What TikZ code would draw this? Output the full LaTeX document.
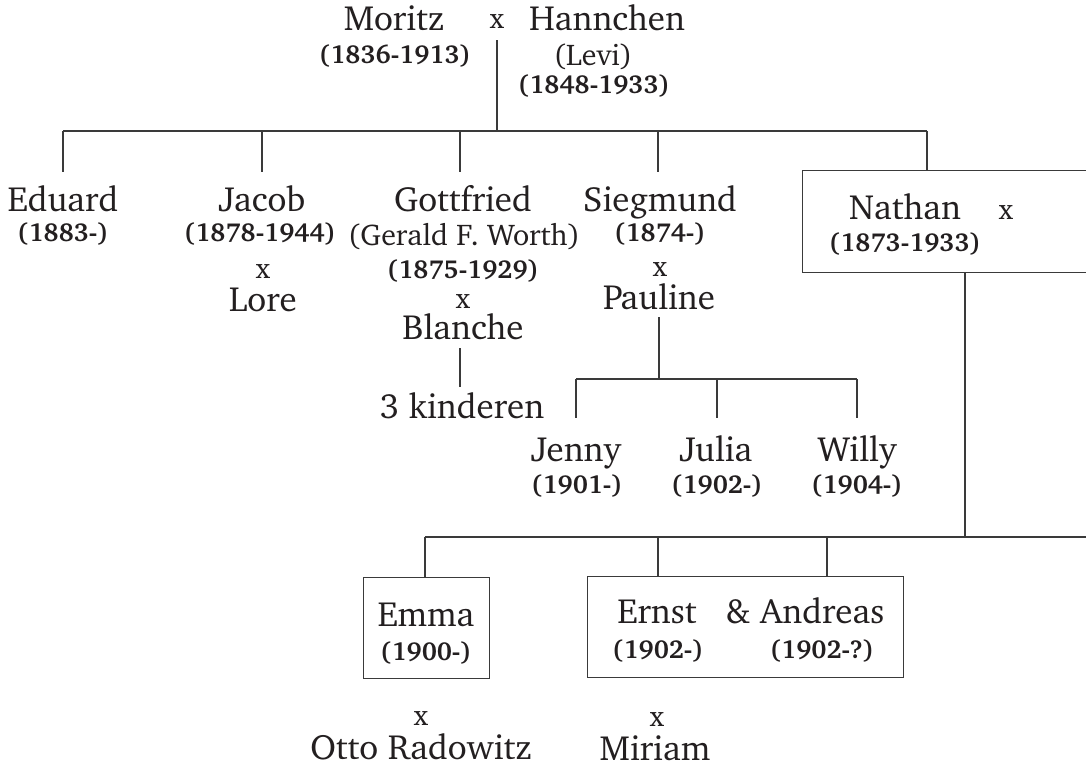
\documentclass[tikz,border=0pt]{standalone}
\usepackage[T1]{fontenc}
\usepackage{charter}
\definecolor{linegray}{HTML}{3A3A3A}
\definecolor{ink}{HTML}{231F20}
\begin{document}
\begin{tikzpicture}[x=1pt,y=-1pt,
  pname/.style={font=\fontsize{35}{35}\selectfont, text=ink, inner sep=0pt, text height=23.5pt, text depth=0pt},
  pdate/.style={font=\fontsize{26}{26}\selectfont\bfseries, text=ink, inner sep=0pt, text height=17.5pt, text depth=0pt},
  pnote/.style={font=\fontsize{30}{30}\selectfont, text=ink, inner sep=0pt, text height=20pt, text depth=0pt},
  xmark/.style={font=\fontsize{29}{29}\selectfont, text=ink, inner sep=0pt, text height=13.5pt, text depth=0pt},
  conn/.style={draw=linegray, line width=1.4pt},
  pbox/.style={draw=linegray, line width=1.4pt, rectangle, inner sep=0pt, anchor=north west}]
\useasboundingbox (0,0) rectangle (1086,769);
\fill[white] (0,0) rectangle (1086,769);

% --- parents ---
\node[pname] (moritz) at (394,19) {Moritz};
\node[xmark] (x0) at (497,22) {x};
\node[pname] (hannchen) at (607,19) {Hannchen};
\node[pdate] (moritzd) at (395,55) {(1836-1913)};
\node[pnote] (levi) at (593,55) {(Levi)};
\node[pdate] (hannchend) at (594,85) {(1848-1933)};

\coordinate (c0) at (497,40);
\coordinate (b0) at (497,131);
\coordinate (b1) at (63,131);
\coordinate (b2) at (262,131);
\coordinate (b3) at (460,131);
\coordinate (b4) at (658,131);
\coordinate (b5) at (927,131);
\coordinate (e1) at (63,172);
\coordinate (e2) at (262,172);
\coordinate (e3) at (460,172);
\coordinate (e4) at (658,172);

% --- Nathan box ---
\node[pbox, minimum width=300pt, minimum height=102pt] (nbox) at (802,170) {};

\draw[conn] (c0) -- (b0);
\draw[conn] (b1) -- (b5);
\draw[conn] (b1) -- (e1);
\draw[conn] (b2) -- (e2);
\draw[conn] (b3) -- (e3);
\draw[conn] (b4) -- (e4);
\draw[conn] (b5) -- (b5 |- nbox.north);

% --- children ---
\node[pname] (eduard) at (63,200) {Eduard};
\node[pdate] (eduardd) at (63,233) {(1883-)};

\node[pname] (jacob) at (262,200) {Jacob};
\node[pdate] (jacobd) at (260,233) {(1878-1944)};
\node[xmark] (xj) at (263,272) {x};
\node[pname] (lore) at (263,300) {Lore};

\node[pname] (gottfried) at (463,200) {Gottfried};
\node[pnote] (gerald) at (464,235) {(Gerald F. Worth)};
\node[pdate] (gottfriedd) at (463,270) {(1875-1929)};
\node[xmark] (xg) at (463,302) {x};
\node[pname] (blanche) at (463,328) {Blanche};
\node[pname] (kinderen) at (462,407) {3 kinderen};
\coordinate (g1) at (460,348);
\coordinate (g2) at (460,387);
\draw[conn] (g1) -- (g2);

\node[pname] (siegmund) at (660,200) {Siegmund};
\node[pdate] (siegmundd) at (660,233) {(1874-)};
\node[xmark] (xs) at (660,270) {x};
\node[pname] (pauline) at (659,298) {Pauline};

\coordinate (s0) at (659,317);
\coordinate (s1) at (659,379);
\coordinate (sj) at (576,379);
\coordinate (sw) at (857,379);
\coordinate (sju) at (717,379);
\coordinate (sje) at (576,418);
\coordinate (sjue) at (717,418);
\coordinate (swe) at (857,418);
\draw[conn] (s0) -- (s1);
\draw[conn] (sj) -- (sw);
\draw[conn] (sj) -- (sje);
\draw[conn] (sju) -- (sjue);
\draw[conn] (sw) -- (swe);

\node[pname] (jenny) at (576,450) {Jenny};
\node[pdate] (jennyd) at (577,485) {(1901-)};
\node[pname] (julia) at (716,450) {Julia};
\node[pdate] (juliad) at (717,485) {(1902-)};
\node[pname] (willy) at (857,450) {Willy};
\node[pdate] (willyd) at (857,485) {(1904-)};

\node[pname] (nathan) at (905,208) {Nathan};
\node[xmark] (xn) at (1006,213) {x};
\node[pdate] (nathand) at (905,243) {(1873-1933)};

% --- Nathan's children ---
\coordinate (n1) at (965,537);
\coordinate (nl) at (425,537);
\coordinate (nr) at (1090,537);
\coordinate (ne) at (658,537);
\coordinate (na) at (827,537);
\draw[conn] (n1 |- nbox.south) -- (n1);
\draw[conn] (nl) -- (nr);

\node[pbox, minimum width=126pt, minimum height=101pt] (ebox) at (363,577) {};
\node[pbox, minimum width=316pt, minimum height=101pt] (abox) at (587,576) {};
\draw[conn] (nl) -- (nl |- ebox.north);
\draw[conn] (ne) -- (ne |- abox.north);
\draw[conn] (na) -- (na |- abox.north);

\node[pname] (emma) at (426,615) {Emma};
\node[pdate] (emmad) at (426,652) {(1900-)};
\node[pname] (ernst) at (657,612) {Ernst};
\node[pname] (andreas) at (805,612) {\&~Andreas};
\node[pdate] (ernstd) at (658,650) {(1902-)};
\node[pdate] (andreasd) at (822,650) {(1902-?)};

\node[xmark] (xe) at (421,719) {x};
\node[pname] (otto) at (421,748) {Otto Radowitz};
\node[xmark] (xa) at (657,720) {x};
\node[pname] (miriam) at (655,749) {Miriam};
\end{tikzpicture}
\end{document}
